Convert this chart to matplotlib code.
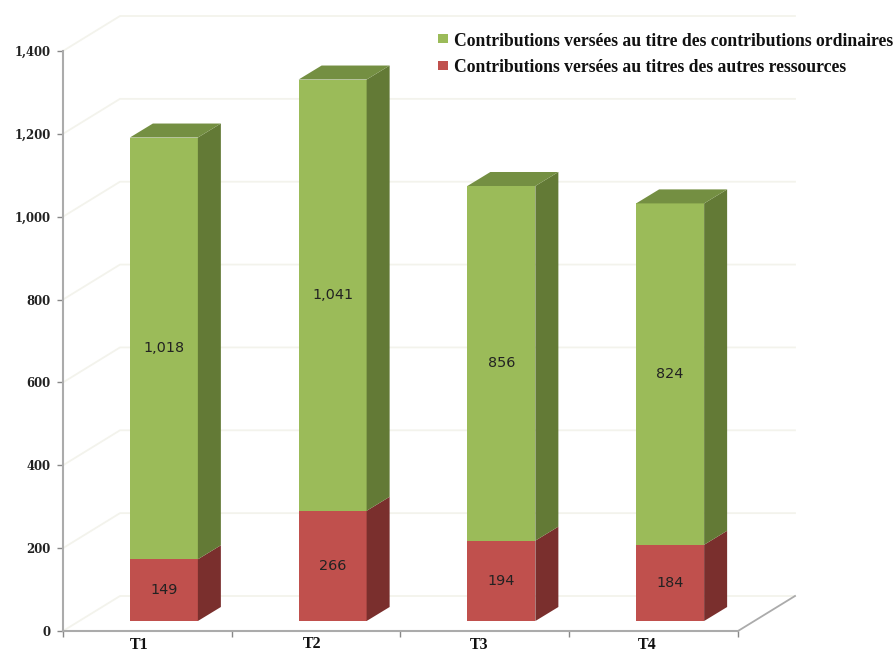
import matplotlib
matplotlib.use('Agg')
import matplotlib.pyplot as plt
from matplotlib.patches import Rectangle

categories = ['T1', 'T2', 'T3', 'T4']
autres = [149, 266, 194, 184]
ordinaires = [1018, 1041, 856, 824]
y_ticks = [0, 200, 400, 600, 800, 1000, 1200, 1400]
y_labels = ['0', '200', '400', '600', '800', '1,000', '1,200', '1,400']
legend_labels = ['Contributions versées au titre des contributions ordinaires',
                 'Contributions versées au titres des autres ressources']

W, H = 895, 652
GREEN = '#9BBB59'
GREEN_SIDE = '#637A36'
GREEN_TOP = '#748F42'
RED = '#C0504D'
RED_SIDE = '#7A2F2D'
GRID = '#F3F3EC'
AXIS = '#ABABAB'

# axes frame in pixels, the 3d look is added by hand
LEFT, RIGHT, BOTTOM, TOP = 63, 738, 631, 51
PX_X = (RIGHT - LEFT) / 4
PX_Y = (BOTTOM - TOP) / 1400
SERIF = ['Liberation Serif', 'DejaVu Serif']

fig = plt.figure(figsize=(W / 100, H / 100), dpi=100)
ax = fig.add_axes([LEFT / W, 1 - BOTTOM / H, (RIGHT - LEFT) / W, (BOTTOM - TOP) / H])
ax.patch.set_alpha(0)


def dx(px):
    return px / PX_X


def dy(px):
    return px / PX_Y


# walls and gridlines
wall_x, wall_y = dx(57), dy(35)
for v in y_ticks:
    ax.plot([0, wall_x, 4 + wall_x], [v, v + wall_y, v + wall_y], color=GRID, lw=1.3,
            clip_on=False, zorder=1)
ax.plot([4, 4 + wall_x], [0, wall_y], color=AXIS, lw=1.3, clip_on=False, zorder=1)

# stacked bars with side and top faces
bar_w = dx(68)
shift_x, base = dx(16.5), dy(10)
side_x, side_y = dx(23), dy(14)
for i, cat in enumerate(categories):
    x0 = i + 0.5 + shift_x - bar_w / 2
    x1 = x0 + bar_w
    y1 = base + autres[i]
    y2 = y1 + ordinaires[i]
    ax.bar(x0, autres[i], bar_w, bottom=base, align='edge', color=RED, zorder=3)
    ax.bar(x0, ordinaires[i], bar_w, bottom=y1, align='edge', color=GREEN, zorder=3)
    ax.fill([x1, x1 + side_x, x1 + side_x, x1], [base, base + side_y, y1 + side_y, y1],
            color=RED_SIDE, lw=0, zorder=3)
    ax.fill([x1, x1 + side_x, x1 + side_x, x1], [y1, y1 + side_y, y2 + side_y, y2],
            color=GREEN_SIDE, lw=0, zorder=3)
    ax.fill([x0, x1, x1 + side_x, x0 + side_x], [y2, y2, y2 + side_y, y2 + side_y],
            color=GREEN_TOP, lw=0, zorder=3)
    ax.text(i + 0.5 + shift_x, base + autres[i] / 2, str(autres[i]), ha='center', va='center',
            fontsize=10.4, color='#222222', zorder=4)
    ax.text(i + 0.5 + shift_x, y1 + ordinaires[i] / 2, f'{ordinaires[i]:,}', ha='center',
            va='center', fontsize=10.4, color='#222222', zorder=4)

ax.set_xlim(0, 4)
ax.set_ylim(0, 1400)
for s in ['top', 'right']:
    ax.spines[s].set_visible(False)
for s in ['left', 'bottom']:
    ax.spines[s].set_color(AXIS)
    ax.spines[s].set_linewidth(1.5)
ax.set_xticks([0, 1, 2, 3, 4])
ax.set_xticklabels([])
ax.tick_params(axis='x', length=4, color='#888888', width=1)
ax.set_yticks(y_ticks)
ax.set_yticklabels(y_labels, fontsize=8.4, fontweight='bold', family='DejaVu Serif', color='#222222')
ax.tick_params(axis='y', length=4, color='#888888', width=1, pad=5)

# category labels sit unevenly in the original
label_px = [(139, 645), (312, 644), (479, 645), (647, 645)]
for cat, (px, py) in zip(categories, label_px):
    fig.text(px / W, 1 - py / H, cat, ha='center', va='center', fontsize=11.5,
             fontweight='bold', family=SERIF, color='#111111')

# legend
for color, py in zip([GREEN, RED], [39, 66]):
    fig.add_artist(Rectangle((438 / W, 1 - (py + 4) / H), 10 / W, 9 / H, color=color,
                             transform=fig.transFigure, lw=0))
for label, py in zip(legend_labels, [41, 67]):
    fig.text(454 / W, 1 - py / H, label, ha='left', va='center', fontsize=12.7,
             fontweight='bold', family=SERIF, color='#111111')

fig.savefig('out.png', dpi=100)
